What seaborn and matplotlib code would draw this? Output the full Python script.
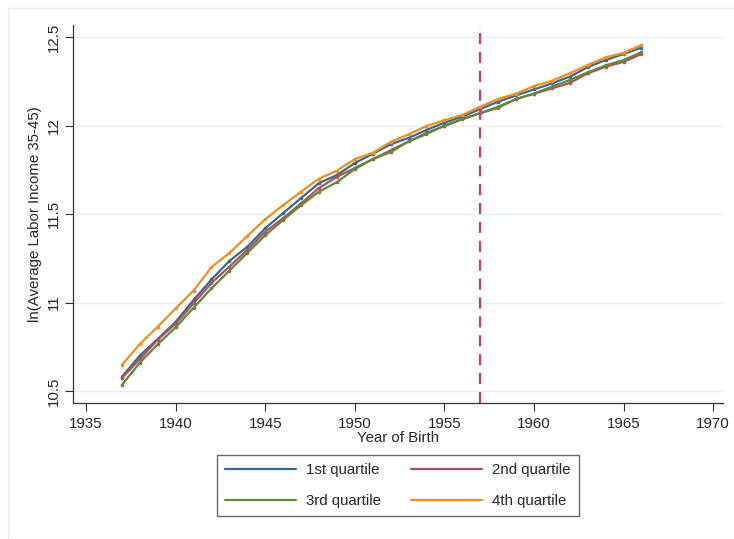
import pandas as pd
import numpy as np
import matplotlib
matplotlib.use("Agg")
import matplotlib.pyplot as plt
import seaborn as sns

# -----------------------------
# Data
# -----------------------------
years = list(range(1937, 1967))

q1 = [10.58, 10.70, 10.794, 10.89, 11.014, 11.13, 11.235, 11.315, 11.42, 11.505,
      11.59, 11.675, 11.72, 11.788, 11.84, 11.894, 11.93, 11.975, 12.016, 12.05,
      12.093, 12.135, 12.17, 12.204, 12.238, 12.276, 12.33, 12.37, 12.404, 12.44]
q2 = [10.573, 10.68, 10.79, 10.88, 10.995, 11.11, 11.203, 11.297, 11.40, 11.477,
      11.56, 11.647, 11.71, 11.76, 11.81, 11.86, 11.91, 11.958, 11.997, 12.036,
      12.07, 12.10, 12.15, 12.18, 12.21, 12.24, 12.295, 12.332, 12.36, 12.404]
q3 = [10.534, 10.66, 10.764, 10.86, 10.97, 11.08, 11.18, 11.28, 11.38, 11.466,
      11.55, 11.626, 11.68, 11.754, 11.81, 11.85, 11.91, 11.952, 12.0, 12.036,
      12.07, 12.106, 12.15, 12.18, 12.22, 12.257, 12.30, 12.34, 12.37, 12.415]
q4 = [10.647, 10.765, 10.863, 10.967, 11.067, 11.20, 11.28, 11.376, 11.47, 11.55,
      11.626, 11.70, 11.745, 11.81, 11.846, 11.907, 11.95, 11.997, 12.03, 12.06,
      12.106, 12.15, 12.18, 12.223, 12.253, 12.295, 12.342, 12.385, 12.41, 12.455]

series_names = ["1st quartile", "2nd quartile", "3rd quartile", "4th quartile"]
cutoff_year = 1957
x_ticks = [1935, 1940, 1945, 1950, 1955, 1960, 1965, 1970]
y_ticks = [10.5, 11, 11.5, 12, 12.5]
y_tick_labels = ["10.5", "11", "11.5", "12", "12.5"]

df = pd.DataFrame({
    "year": years * 4,
    "income": q1 + q2 + q3 + q4,
    "group": sum([[n] * len(years) for n in series_names], []),
})

# -----------------------------
# Styling
# -----------------------------
sns.set_style("white")
plt.rcParams["font.family"] = ["Liberation Sans", "DejaVu Sans"]
FONT = 10.8
palette = {
    "1st quartile": "#3a6892",
    "2nd quartile": "#b4505c",
    "3rd quartile": "#5f8a38",
    "4th quartile": "#f0901e",
}

fig = plt.figure(figsize=(7.34, 5.39), dpi=100)
ax = fig.add_axes([73 / 734, 1 - 402.5 / 539, (723 - 73) / 734, (402.5 - 25) / 539])

sns.lineplot(data=df, x="year", y="income", hue="group", palette=palette,
             marker="o", markersize=2.6, markeredgewidth=0, linewidth=1.6,
             ax=ax, legend=True)

ax.axvline(cutoff_year, color="#d8356b", linestyle=(0, (5, 3.5)), linewidth=1.6)

ax.set_xlim(1934.27, 1970.55)
ax.set_ylim(10.435, 12.568)
ax.set_xticks(x_ticks)
ax.set_yticks(y_ticks)
ax.set_yticklabels(y_tick_labels, rotation=90, va="center")
ax.tick_params(axis="both", labelsize=FONT, length=5.5, width=0.8,
               color="#333333", direction="out", bottom=True, left=True)
ax.tick_params(axis="x", pad=5)
ax.tick_params(axis="y", pad=3)
ax.grid(axis="y", color="#e8eff2", linewidth=1)
ax.set_axisbelow(True)
for s in ["top", "right"]:
    ax.spines[s].set_visible(False)
for s in ["left", "bottom"]:
    ax.spines[s].set_color("#333333")
    ax.spines[s].set_linewidth(0.9)

ax.set_xlabel("Year of Birth", fontsize=FONT, labelpad=0)
ax.set_ylabel("ln(Average Labor Income 35-45)", fontsize=FONT, labelpad=4)

# legend filled row by row: 1st, 2nd / 3rd, 4th
handles, labels = ax.get_legend_handles_labels()
for h in handles:
    h.set_marker("")
order = [0, 2, 1, 3]
leg = ax.legend([handles[i] for i in order], [labels[i] for i in order],
                ncol=2, loc="center",
                bbox_to_anchor=(398 / 734, 1 - 485.5 / 539),
                bbox_transform=fig.transFigure, fontsize=FONT,
                frameon=True, fancybox=False, handlelength=4.7,
                columnspacing=2.0, handletextpad=0.7,
                borderpad=0.53, labelspacing=1.1)
leg.get_frame().set_edgecolor("#444444")
leg.get_frame().set_linewidth(1)

# faint outer frame like the graph region
fig.patches.append(plt.Rectangle((8 / 734, 0.0), 1.0, 1 - 8 / 539,
                                 transform=fig.transFigure, fill=False,
                                 edgecolor="#e6ecef", linewidth=1))

fig.savefig("out.png", dpi=100)
